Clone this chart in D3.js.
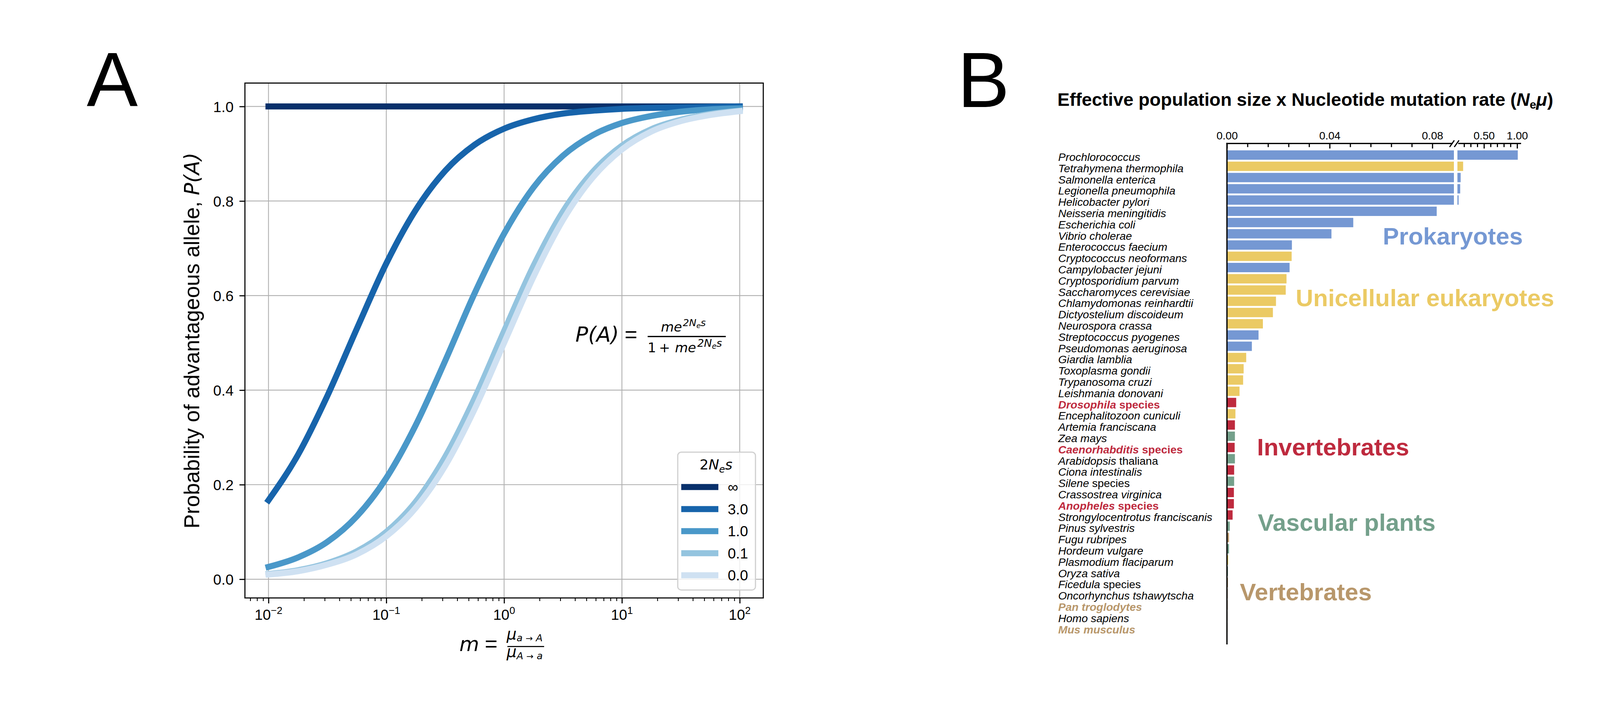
<!DOCTYPE html>
<html>
<head>
<meta charset="utf-8">
<script src="https://cdn.jsdelivr.net/npm/d3@7"></script>
<style>
  body { margin: 0; background: #fff; }
  text { font-family: "Liberation Sans", Arial, sans-serif; }
  .math { font-family: "DejaVu Sans", sans-serif; }
</style>
</head>
<body>
<svg id="fig" width="4200" height="1800"></svg>
<script>
// ---------- Panel A data ----------
const logM = [-2, -1.75, -1.5, -1.25, -1, -0.75, -0.5, -0.25, 0, 0.25, 0.5, 0.75, 1, 1.25, 1.5, 1.75, 2];
const selLabels = ["∞", "3.0", "1.0", "0.1", "0.0"];
const pInf = [1, 1, 1, 1, 1, 1, 1, 1, 1, 1, 1, 1, 1, 1, 1, 1, 1];
const p30 = [0.167, 0.263, 0.388, 0.530, 0.668, 0.781, 0.864, 0.919, 0.953, 0.973, 0.985, 0.991, 0.995, 0.997, 0.998, 0.999, 1.000];
const p10 = [0.026, 0.046, 0.079, 0.133, 0.214, 0.326, 0.462, 0.605, 0.731, 0.829, 0.896, 0.939, 0.965, 0.980, 0.989, 0.994, 0.996];
const p01 = [0.011, 0.019, 0.034, 0.059, 0.100, 0.164, 0.259, 0.383, 0.525, 0.663, 0.778, 0.861, 0.917, 0.952, 0.972, 0.984, 0.991];
const p00 = [0.010, 0.017, 0.031, 0.053, 0.091, 0.151, 0.240, 0.360, 0.500, 0.640, 0.760, 0.849, 0.909, 0.947, 0.969, 0.982, 0.990];
const xDecades = [-2, -1, 0, 1, 2];
const yTicksA = [0, 0.2, 0.4, 0.6, 0.8, 1.0];

// ---------- Panel B data ----------
const species = [
  "Prochlorococcus", "Tetrahymena thermophila", "Salmonella enterica", "Legionella pneumophila",
  "Helicobacter pylori", "Neisseria meningitidis", "Escherichia coli", "Vibrio cholerae",
  "Enterococcus faecium", "Cryptococcus neoformans", "Campylobacter jejuni", "Cryptosporidium parvum",
  "Saccharomyces cerevisiae", "Chlamydomonas reinhardtii", "Dictyostelium discoideum", "Neurospora crassa",
  "Streptococcus pyogenes", "Pseudomonas aeruginosa", "Giardia lamblia", "Toxoplasma gondii",
  "Trypanosoma cruzi", "Leishmania donovani", "Drosophila species", "Encephalitozoon cuniculi",
  "Artemia franciscana", "Zea mays", "Caenorhabditis species", "Arabidopsis thaliana",
  "Ciona intestinalis", "Silene species", "Crassostrea virginica", "Anopheles species",
  "Strongylocentrotus franciscanis", "Pinus sylvestris", "Fugu rubripes", "Hordeum vulgare",
  "Plasmodium flaciparum", "Oryza sativa", "Ficedula species", "Oncorhynchus tshawytscha",
  "Pan troglodytes", "Homo sapiens", "Mus musculus"
];
const nemu = [
  1.01, 0.186, 0.149, 0.142,
  0.118, 0.0817, 0.0492, 0.0407,
  0.0253, 0.0252, 0.0244, 0.0232,
  0.0229, 0.0191, 0.0179, 0.0140,
  0.0123, 0.0097, 0.0075, 0.0065,
  0.0063, 0.0049, 0.0036, 0.0033,
  0.0031, 0.0031, 0.0030, 0.0031,
  0.0028, 0.0028, 0.0027, 0.0027,
  0.0022, 0.0011, 0.0008, 0.0008,
  0.0005, 0.0004, 0.0004, 0.0003,
  0.0003, 0.0002, 0.0002
];
const groups = [
  "P", "U", "P", "P", "P", "P", "P", "P", "P", "U", "P", "U", "U", "U", "U", "U",
  "P", "P", "U", "U", "U", "U", "I", "U", "I", "V", "I", "V", "I", "V", "I", "I",
  "I", "V", "T", "V", "U", "V", "T", "T", "T", "T", "T"
];
const highlighted = ["Drosophila species", "Caenorhabditis species", "Anopheles species", "Pan troglodytes", "Mus musculus"];
const groupCodes = ["P", "U", "I", "V", "T"];
const groupNames = ["Prokaryotes", "Unicellular eukaryotes", "Invertebrates", "Vascular plants", "Vertebrates"];
const leftTicks = [0, 0.04, 0.08];
const leftMinor = [0.008, 0.016, 0.024, 0.032, 0.048, 0.056, 0.064, 0.072];
const rightTicks = [0.5, 1.0];
const rightMinor = [0.2, 0.3, 0.4, 0.6, 0.7, 0.8, 0.9];

// ---------- styles / layout ----------
const blues = ["#08306b", "#1764ab", "#4a98c9", "#94c4df", "#cfe1f2"];
const groupColor = d3.scaleOrdinal().domain(groupCodes)
  .range(["#7598d3", "#ebca64", "#be2a3e", "#74a08b", "#b8976b"]);
const catPos = [[3540, 626], [3317, 784], [3218, 1166], [3220, 1359], [3174, 1537]];

const svg = d3.select("#fig");

// ================= Panel A =================
const A = { left: 627, right: 1954, top: 212.7, bottom: 1531 };
const xA = d3.scaleLog().domain([Math.pow(10, -2.2), Math.pow(10, 2.2)]).range([A.left, A.right]);
const yA = d3.scaleLinear().domain([-0.0396, 1.0495]).range([A.bottom, A.top]);
const gA = svg.append("g");

// grid
gA.selectAll(".gx").data(xDecades).enter().append("line")
  .attr("x1", d => xA(Math.pow(10, d))).attr("x2", d => xA(Math.pow(10, d)))
  .attr("y1", A.top).attr("y2", A.bottom)
  .attr("stroke", "#b0b0b0").attr("stroke-width", 2.2);
gA.selectAll(".gy").data(yTicksA).enter().append("line")
  .attr("x1", A.left).attr("x2", A.right)
  .attr("y1", d => yA(d)).attr("y2", d => yA(d))
  .attr("stroke", "#b0b0b0").attr("stroke-width", 2.2);

// curves
const series = [pInf, p30, p10, p01, p00].map((vals, i) => ({
  label: selLabels[i], color: blues[i],
  pts: vals.map((v, j) => [Math.pow(10, logM[j]), v])
}));
const line = d3.line().x(d => xA(d[0])).y(d => yA(d[1])).curve(d3.curveMonotoneX);
gA.selectAll(".curve").data(series).enter().append("path")
  .attr("d", d => line(d.pts))
  .attr("fill", "none")
  .attr("stroke", d => d.color)
  .attr("stroke-width", 15.5)
  .attr("stroke-linecap", "square");

// axes
const minorX = [];
for (let k = -3; k <= 1; k++) {
  for (let j = 2; j <= 9; j++) {
    const v = j * Math.pow(10, k);
    if (Math.log10(v) > -2.2 && Math.log10(v) < 2.2) minorX.push(v);
  }
}
const styleAxis = (g, w) => {
  g.select(".domain").remove();
  g.selectAll("line").attr("stroke", "#000").attr("stroke-width", w);
};
gA.append("g").attr("transform", `translate(0,${A.bottom})`)
  .call(d3.axisBottom(xA).tickValues(minorX).tickSize(8).tickFormat(""))
  .call(g => styleAxis(g, 2.2));
gA.append("g").attr("transform", `translate(0,${A.bottom})`)
  .call(d3.axisBottom(xA).tickValues(xDecades.map(d => Math.pow(10, d))).tickSize(14).tickFormat(""))
  .call(g => styleAxis(g, 2.8));
xDecades.forEach(d => {
  const t = gA.append("text")
    .attr("x", xA(Math.pow(10, d))).attr("y", 1587)
    .attr("text-anchor", "middle").attr("font-size", 37.5).attr("fill", "#000");
  t.append("tspan").text("10");
  t.append("tspan").attr("font-size", 26).attr("dy", -14.7).text(d < 0 ? "\u2212" + (-d) : String(d));
});
gA.append("g").attr("transform", `translate(${A.left},0)`)
  .call(d3.axisLeft(yA).tickValues(yTicksA).tickSize(14).tickPadding(15).tickFormat(d3.format(".1f")))
  .call(g => styleAxis(g, 2.8))
  .call(g => g.selectAll("text").attr("font-size", 37.5).attr("dy", "0.36em").attr("fill", "#000")
    .style("font-family", "'Liberation Sans', Arial, sans-serif"));

// spines
gA.append("rect")
  .attr("x", A.left).attr("y", A.top)
  .attr("width", A.right - A.left).attr("height", A.bottom - A.top)
  .attr("fill", "none").attr("stroke", "#000").attr("stroke-width", 2.8);

// formula
gA.append("text").attr("class", "math").attr("x", 1473).attr("y", 875)
  .attr("font-size", 54).attr("font-style", "italic").text("P(A)");
gA.append("text").attr("x", 1599).attr("y", 875).attr("font-size", 56).text("=");
gA.append("line").attr("x1", 1658).attr("x2", 1858).attr("y1", 861.7).attr("y2", 861.7)
  .attr("stroke", "#000").attr("stroke-width", 3.3);
const fn = gA.append("text").attr("class", "math").attr("x", 1692).attr("y", 849)
  .attr("font-size", 34).attr("font-style", "italic");
fn.append("tspan").text("me");
fn.append("tspan").attr("font-size", 25).attr("dx", 2).attr("dy", -14).text("2N");
fn.append("tspan").attr("font-size", 18).attr("dy", 5).text("e");
fn.append("tspan").attr("font-size", 25).attr("dy", -5).text("s");
const fd = gA.append("text").attr("class", "math").attr("x", 1658).attr("y", 902).attr("font-size", 34);
fd.append("tspan").text("1");
fd.append("tspan").attr("x", 1687).text("+");
fd.append("tspan").attr("x", 1728).attr("font-style", "italic").text("me");
fd.append("tspan").attr("font-style", "italic").attr("font-size", 27).attr("dx", 3).attr("dy", -14).text("2N");
fd.append("tspan").attr("font-style", "italic").attr("font-size", 19).attr("dy", 5).text("e");
fd.append("tspan").attr("font-style", "italic").attr("font-size", 27).attr("dy", -5).text("s");

// legend
const leg = gA.append("g");
leg.append("rect").attr("x", 1735).attr("y", 1157.7).attr("width", 199).attr("height", 353)
  .attr("rx", 9).attr("fill", "#fff").attr("fill-opacity", 0.8)
  .attr("stroke", "#d0d0d0").attr("stroke-width", 3);
const lt = leg.append("text").attr("class", "math").attr("x", 1833).attr("y", 1201.7)
  .attr("text-anchor", "middle").attr("font-size", 36);
lt.append("tspan").text("2");
lt.append("tspan").attr("font-style", "italic").text("N");
lt.append("tspan").attr("font-style", "italic").attr("font-size", 25).attr("dy", 8).text("e");
lt.append("tspan").attr("font-style", "italic").attr("dy", -8).text("s");
const legRow = leg.selectAll(".row").data(series).enter().append("g")
  .attr("transform", (d, i) => `translate(0,${1247 + i * 56.5})`);
legRow.append("line").attr("x1", 1744).attr("x2", 1839)
  .attr("stroke", d => d.color).attr("stroke-width", 15.5);
legRow.append("text").attr("x", 1863).attr("dy", 13.4).attr("font-size", 37.5).text(d => d.label);

// axis labels
gA.append("text")
  .attr("transform", `translate(510,${(A.top + A.bottom) / 2}) rotate(-90)`)
  .attr("text-anchor", "middle").attr("font-size", 55)
  .call(t => {
    t.append("tspan").text("Probability of advantageous allele, ");
    t.append("tspan").attr("class", "math").attr("font-size", 53).attr("font-style", "italic").text("P(A)");
  });
gA.append("text").attr("class", "math").attr("x", 1176).attr("y", 1667)
  .attr("font-size", 52).attr("font-style", "italic").text("m");
gA.append("text").attr("x", 1241).attr("y", 1667).attr("font-size", 56).text("=");
gA.append("line").attr("x1", 1299).attr("x2", 1393).attr("y1", 1655.3).attr("y2", 1655.3)
  .attr("stroke", "#000").attr("stroke-width", 2.7);
const xn = gA.append("text").attr("class", "math").attr("x", 1297).attr("y", 1637)
  .attr("font-size", 40).attr("font-style", "italic");
xn.append("tspan").text("μ");
xn.append("tspan").attr("font-size", 25).attr("dy", 5).text("a ");
xn.append("tspan").attr("font-size", 22).attr("font-style", "normal").text("→");
xn.append("tspan").attr("font-size", 25).text(" A");
const xd = gA.append("text").attr("class", "math").attr("x", 1297).attr("y", 1682)
  .attr("font-size", 40).attr("font-style", "italic");
xd.append("tspan").text("μ");
xd.append("tspan").attr("font-size", 25).attr("dy", 6).text("A ");
xd.append("tspan").attr("font-size", 22).attr("font-style", "normal").text("→");
xd.append("tspan").attr("font-size", 25).text(" a");

// panel letter
svg.append("text").attr("x", 222).attr("y", 272).attr("font-size", 196).text("A");

// ================= Panel B =================
const B = { axisX: 3141, axisY: 367.3, bottom: 1650 };
const yB = d3.scaleBand().domain(species).range([382.6, 382.6 + species.length * 28.8])
  .paddingInner(0.167).paddingOuter(0.0835);
const leftMax = 0.0884;
const xL = d3.scaleLinear().domain([0, leftMax]).range([B.axisX, 3722]);
const xR = d3.scaleLinear().domain([0.1, 1.06]).range([3731, 3894]);
const gB = svg.append("g");
const barData = species.map((s, i) => ({ name: s, v: nemu[i], g: groups[i] }));

gB.selectAll(".barL").data(barData).enter().append("rect")
  .attr("x", xL(0)).attr("y", d => yB(d.name))
  .attr("width", d => xL(Math.min(d.v, leftMax)) - xL(0))
  .attr("height", yB.bandwidth())
  .attr("fill", d => groupColor(d.g));
gB.selectAll(".barR").data(barData.filter(d => d.v > 0.1)).enter().append("rect")
  .attr("x", xR(0.1)).attr("y", d => yB(d.name))
  .attr("width", d => xR(d.v) - xR(0.1))
  .attr("height", yB.bandwidth())
  .attr("fill", d => groupColor(d.g));

// top axes
const topAxis = (scale, vals, size, fmt) => gB.append("g")
  .attr("transform", `translate(0,${B.axisY})`)
  .call(d3.axisTop(scale).tickValues(vals).tickSize(size).tickPadding(10.6).tickFormat(fmt))
  .call(g => styleAxis(g, 3))
  .call(g => g.selectAll("text").attr("font-size", 28).attr("fill", "#000")
    .style("font-family", "'Liberation Sans', Arial, sans-serif"));
topAxis(xL, leftMinor, -9.3, "");
topAxis(xL, leftTicks, -13, d3.format(".2f"));
topAxis(xR, rightMinor, -9.3, "");
topAxis(xR, rightTicks, -13, d3.format(".2f"));

gB.append("line").attr("x1", B.axisX - 1.6).attr("x2", 3719).attr("y1", B.axisY).attr("y2", B.axisY)
  .attr("stroke", "#000").attr("stroke-width", 3.3);
gB.append("line").attr("x1", 3733).attr("x2", 3894).attr("y1", B.axisY).attr("y2", B.axisY)
  .attr("stroke", "#000").attr("stroke-width", 3.3);
[[3711, 3723], [3723, 3735]].forEach(([a, b]) => {
  gB.append("line").attr("x1", a).attr("y1", B.axisY + 9).attr("x2", b).attr("y2", B.axisY - 8)
    .attr("stroke", "#000").attr("stroke-width", 3);
});
gB.append("line").attr("x1", B.axisX).attr("x2", B.axisX).attr("y1", B.axisY - 1.6).attr("y2", B.bottom)
  .attr("stroke", "#000").attr("stroke-width", 3.3);

// species labels
const labelParts = name => {
  if (name.endsWith(" species")) return [[name.replace(" species", ""), true], [" species", false]];
  if (name === "Arabidopsis thaliana") return [["Arabidopsis", true], [" thaliana", false]];
  return [[name, true]];
};
barData.forEach(d => {
  const hl = highlighted.includes(d.name);
  const t = gB.append("text").attr("x", 2709)
    .attr("y", yB(d.name) + yB.bandwidth() / 2 + 15)
    .attr("font-size", 28.4)
    .attr("font-weight", hl ? "bold" : "normal")
    .attr("fill", hl ? groupColor(d.g) : "#000");
  labelParts(d.name).forEach(([s, it]) => {
    t.append("tspan").attr("font-style", it ? "italic" : "normal").text(s);
  });
});

// group labels
groupNames.forEach((n, i) => {
  gB.append("text").attr("x", catPos[i][0]).attr("y", catPos[i][1])
    .attr("font-size", 62).attr("font-weight", "bold")
    .attr("fill", groupColor(groupCodes[i])).text(n);
});

// title
const tt = gB.append("text").attr("x", 2707).attr("y", 271.4).attr("font-size", 46.7).attr("font-weight", "bold");
tt.append("tspan").text("Effective population size x Nucleotide mutation rate (");
tt.append("tspan").attr("font-style", "italic").text("N");
tt.append("tspan").attr("font-size", 30).attr("dy", 7).text("e");
tt.append("tspan").attr("font-style", "italic").attr("dy", -7).text("μ");
tt.append("tspan").text(")");

svg.append("text").attr("x", 2451).attr("y", 273.5).attr("font-size", 200).text("B");
</script>
</body>
</html>
